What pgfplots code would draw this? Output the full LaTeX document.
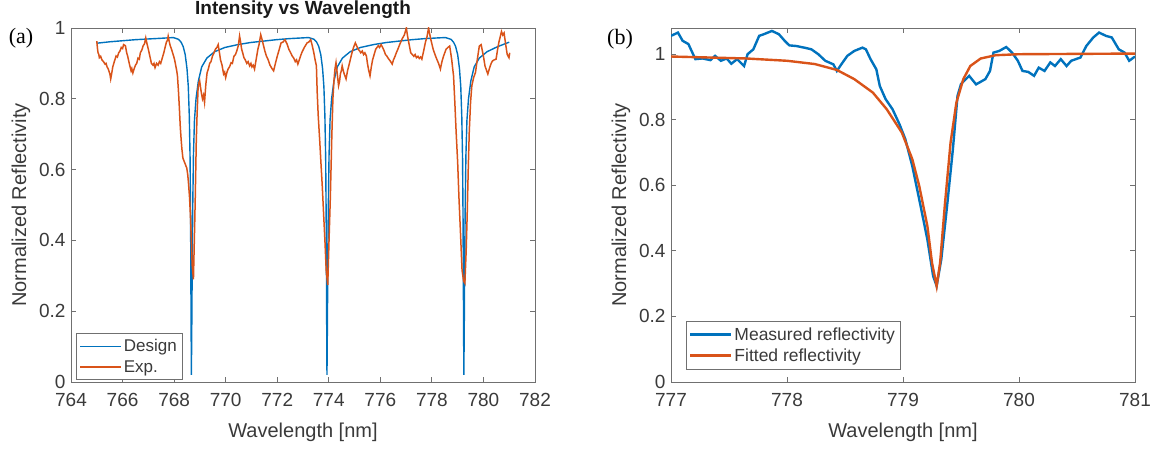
\documentclass[border=0pt]{standalone}
\usepackage{fontspec}
\setmainfont{Liberation Sans}
\newfontfamily\serifcap{Liberation Serif}
\usepackage{pgfplots}
\pgfplotsset{compat=1.18}
\definecolor{mblue}{HTML}{0072BD}
\definecolor{morange}{HTML}{D95319}
\definecolor{axgray}{HTML}{707070}
\definecolor{txtgray}{HTML}{3A3A3A}
\pgfplotsset{
  mystyle/.style={
    scale only axis, width=464pt, height=354pt,
    axis line style={axgray, line width=0.9pt},
    tick style={axgray, line width=0.9pt},
    major tick length=5pt,
    tick align=inside,
    tick label style={font=\fontsize{19}{22}\selectfont, text=txtgray},
    /pgf/number format/assume math mode=true,
    xticklabel style={yshift=-8pt},
    yticklabel style={xshift=-2pt},
    label style={font=\fontsize{20}{24}\selectfont, text=txtgray},
    xlabel style={at={(axis description cs:0.5,-0.141)}, anchor=center},
    ylabel style={at={(axis description cs:-0.108,0.5)}, anchor=center},
    legend cell align=left,
    legend image code/.code={\draw[##1] (0pt,0pt) -- (41pt,0pt);},
  }
}
\begin{document}
\begin{tikzpicture}
\useasboundingbox (0pt,0pt) rectangle (1157pt,450pt);
\begin{axis}[mystyle, at={(71pt,68pt)}, anchor=south west,
  xmin=764, xmax=782, ymin=0, ymax=1,
  xtick={764,766,...,782}, ytick={0,0.2,...,1},
  xlabel={Wavelength [nm]}, ylabel={Normalized Reflectivity},
  title={Intensity vs Wavelength},
  title style={font=\bfseries\fontsize{19}{23}\selectfont, text=black!90, at={(axis description cs:0.5,1.022)}, anchor=base},
  legend style={at={(axis description cs:0.011,0.006)}, anchor=south west, draw=axgray, fill=white, font=\fontsize{17}{20}\selectfont, text=txtgray, inner xsep=3pt, inner ysep=4pt, row sep=3pt},
]
\addplot[mblue, line width=1.4pt] coordinates {
(765.0,0.957)(765.5,0.961)(766.0,0.964)(766.5,0.967)(767.0,0.969)(767.5,0.971)(767.97,0.973)
(768.17,0.968)(768.27,0.960)(768.35,0.948)(768.43,0.925)(768.50,0.885)(768.55,0.835)(768.59,0.75)
(768.62,0.63)(768.64,0.45)(768.655,0.22)(768.67,0.02)(768.685,0.15)(768.70,0.30)(768.72,0.48)
(768.75,0.64)(768.79,0.74)(768.85,0.80)(768.94,0.85)(769.07,0.89)(769.27,0.915)(769.57,0.933)
(769.97,0.945)(770.47,0.953)(770.97,0.959)(771.47,0.963)(771.97,0.967)(772.47,0.970)(772.97,0.972)
(773.22,0.973)
(773.43,0.968)(773.53,0.960)(773.61,0.948)(773.69,0.925)(773.76,0.885)(773.81,0.835)(773.85,0.75)
(773.88,0.63)(773.90,0.45)(773.915,0.22)(773.93,0.02)(773.945,0.15)(773.96,0.30)(773.98,0.48)
(774.01,0.64)(774.05,0.74)(774.11,0.80)(774.20,0.85)(774.33,0.89)(774.53,0.915)(774.83,0.933)
(775.23,0.945)(775.73,0.953)(776.23,0.959)(776.73,0.963)(777.23,0.967)(777.73,0.970)(778.23,0.972)
(778.53,0.973)
(778.74,0.968)(778.84,0.960)(778.92,0.948)(779.00,0.925)(779.07,0.885)(779.12,0.835)(779.16,0.75)
(779.19,0.63)(779.21,0.45)(779.225,0.22)(779.24,0.02)(779.255,0.15)(779.27,0.30)(779.29,0.48)
(779.32,0.64)(779.36,0.74)(779.42,0.80)(779.51,0.85)(779.64,0.89)(779.84,0.915)(780.14,0.933)
(780.54,0.947)(781.0,0.960)
};
\addlegendentry{Design}
\addplot[morange, line width=1.5pt] coordinates {
(765.0,0.963)(765.03,0.94)(765.05,0.93)(765.08,0.925)(765.1,0.916)(765.15,0.92)(765.2,0.91)(765.26,0.905)
(765.32,0.898)(765.36,0.9)(765.4,0.89)(765.44,0.885)(765.47,0.879)(765.51,0.87)(765.54,0.856)(765.58,0.872)
(765.62,0.89)(765.68,0.905)(765.75,0.921)(765.8,0.918)(765.85,0.93)(765.9,0.935)(765.95,0.945)(766.0,0.942)
(766.04,0.953)(766.11,0.95)(766.16,0.93)(766.2,0.92)(766.26,0.9)(766.33,0.879)(766.36,0.885)(766.4,0.873)
(766.45,0.885)(766.5,0.895)(766.55,0.9)(766.6,0.915)(766.65,0.912)(766.69,0.93)(766.75,0.938)(766.8,0.95)
(766.85,0.955)(766.9,0.972)(766.95,0.955)(767.0,0.94)(767.06,0.92)(767.12,0.90)(767.18,0.895)(767.22,0.9)
(767.26,0.888)(767.32,0.9)(767.38,0.895)(767.43,0.905)(767.48,0.90)(767.54,0.915)(767.6,0.93)(767.65,0.945)
(767.7,0.96)(767.74,0.965)(767.77,0.977)(767.81,0.962)(767.85,0.95)(767.9,0.94)(767.94,0.93)(767.98,0.921)
(768.02,0.91)(768.06,0.895)(768.1,0.88)(768.13,0.865)(768.17,0.82)(768.2,0.78)(768.24,0.72)
(768.27,0.688)(768.3,0.66)(768.34,0.633)(768.38,0.625)(768.42,0.618)(768.46,0.61)(768.49,0.605)(768.53,0.585)
(768.56,0.56)(768.6,0.52)(768.63,0.474)(768.67,0.40)(768.7,0.33)
(768.75,0.29)(768.8,0.45)(768.82,0.52)(768.86,0.68)(768.89,0.753)(768.93,0.83)(768.96,0.845)(768.99,0.851)
(769.02,0.835)(769.05,0.82)(769.1,0.80)(769.14,0.81)(769.18,0.79)(769.23,0.84)(769.28,0.874)(769.33,0.885)
(769.38,0.90)(769.43,0.905)(769.49,0.921)(769.55,0.93)
(769.6,0.94)(769.66,0.945)(769.71,0.953)(769.76,0.93)(769.8,0.91)(769.86,0.895)(769.92,0.870)(769.96,0.875)
(770.0,0.86)(770.05,0.875)(770.1,0.885)(770.15,0.89)(770.21,0.902)(770.26,0.9)
(770.32,0.92)(770.38,0.925)(770.43,0.935)(770.49,0.95)(770.54,0.977)(770.58,0.96)(770.62,0.94)(770.66,0.93)
(770.71,0.916)(770.76,0.91)(770.82,0.90)(770.87,0.905)(770.93,0.893)(770.98,0.9)
(771.02,0.89)(771.07,0.895)(771.12,0.884)(771.18,0.91)(771.25,0.94)(771.3,0.955)(771.36,0.981)(771.42,0.965)
(771.47,0.95)(771.52,0.935)(771.58,0.921)(771.65,0.91)(771.72,0.895)(771.8,0.885)
(771.86,0.879)(771.93,0.9)(772.0,0.92)(772.08,0.94)(772.15,0.958)(772.22,0.96)(772.3,0.967)(772.38,0.955)
(772.45,0.94)(772.52,0.93)(772.58,0.921)(772.64,0.915)(772.7,0.905)(772.75,0.91)
(772.8,0.898)(772.88,0.915)(772.95,0.93)(773.05,0.945)(773.16,0.958)(773.22,0.96)(773.3,0.967)(773.36,0.95)
(773.42,0.93)(773.47,0.91)(773.52,0.893)(773.55,0.82)(773.59,0.753)
(773.65,0.68)(773.7,0.614)(773.75,0.55)(773.8,0.474)(773.85,0.40)(773.9,0.316)(773.96,0.274)(774.01,0.40)
(774.06,0.52)(774.12,0.70)
(774.16,0.80)(774.2,0.85)(774.24,0.884)(774.28,0.902)(774.33,0.87)(774.38,0.837)(774.42,0.85)(774.45,0.87)
(774.49,0.88)(774.52,0.893)
(774.56,0.88)(774.6,0.87)(774.67,0.856)(774.73,0.88)(774.8,0.90)(774.85,0.915)(774.9,0.93)(774.96,0.945)
(775.03,0.958)(775.08,0.95)(775.14,0.94)(775.2,0.935)(775.24,0.93)
(775.3,0.935)(775.35,0.925)(775.4,0.93)(775.46,0.921)(775.5,0.9)(775.55,0.88)(775.6,0.865)(775.65,0.89)
(775.7,0.91)(775.76,0.925)(775.82,0.94)(775.87,0.945)(775.92,0.95)
(775.97,0.945)(776.03,0.953)(776.09,0.945)(776.15,0.935)(776.2,0.925)(776.25,0.921)(776.3,0.915)(776.35,0.91)
(776.4,0.905)(776.46,0.898)(776.51,0.91)(776.57,0.92)(776.62,0.93)(776.68,0.94)
(776.76,0.955)(776.85,0.97)(776.93,0.98)(777.01,1.0)(777.05,0.98)(777.1,0.96)(777.14,0.945)(777.18,0.93)
(777.24,0.925)(777.3,0.92)(777.35,0.925)(777.4,0.916)(777.46,0.92)(777.51,0.914)(777.56,0.918)
(777.61,0.912)(777.68,0.935)(777.75,0.96)(777.81,0.975)(777.87,1.0)(777.91,0.985)(777.95,0.97)(778.0,0.955)
(778.05,0.94)(778.12,0.925)(778.2,0.91)(778.26,0.9)(778.33,0.884)
(778.39,0.905)(778.45,0.92)(778.5,0.93)(778.55,0.94)(778.62,0.945)(778.69,0.949)(778.73,0.93)(778.77,0.91)
(778.8,0.89)(778.84,0.865)(778.89,0.79)(778.94,0.707)(779.0,0.62)(779.05,0.521)
(779.11,0.42)(779.17,0.316)(779.23,0.285)(779.28,0.279)(779.33,0.37)(779.37,0.474)(779.41,0.6)(779.45,0.707)
(779.5,0.79)(779.55,0.837)(779.62,0.86)(779.69,0.874)(779.74,0.9)(779.78,0.92)
(779.84,0.949)(779.91,0.953)(779.96,0.935)(780.0,0.92)(780.06,0.893)(780.12,0.88)(780.17,0.87)(780.21,0.88)
(780.25,0.89)(780.3,0.9)(780.35,0.907)(780.42,0.91)
(780.49,0.912)(780.55,0.94)(780.6,0.96)(780.65,0.975)(780.7,0.99)(780.75,0.98)(780.8,0.986)(780.84,0.965)
(780.87,0.95)(780.92,0.926)(780.96,0.92)(780.99,0.916)(781.02,0.93)
};
\addlegendentry{Exp.}
\end{axis}
\begin{axis}[mystyle, at={(671pt,68pt)}, anchor=south west,
  xmin=777, xmax=781, ymin=0, ymax=1.08,
  xtick={777,778,...,781}, ytick={0,0.2,...,1},
  xlabel={Wavelength [nm]}, ylabel={Normalized Reflectivity},
  legend style={at={(axis description cs:0.032,0.037)}, anchor=south west, draw=axgray, fill=white, font=\fontsize{17.5}{20}\selectfont, text=txtgray, inner xsep=3pt, inner ysep=4pt, row sep=3pt},
]
\addplot[mblue, line width=2.4pt] coordinates {
(777.0,1.056)(777.06,1.066)(777.1,1.041)(777.15,1.031)(777.21,0.985)(777.27,0.987)(777.34,0.982)
(777.38,0.995)(777.43,0.98)(777.48,0.987)(777.52,0.971)(777.57,0.985)(777.63,0.964)(777.66,1.0)
(777.71,1.015)(777.76,1.056)(777.8,1.061)(777.87,1.071)(777.93,1.061)(777.98,1.041)(778.02,1.027)
(778.08,1.025)(778.15,1.02)(778.21,1.015)(778.27,1.0)(778.33,0.98)(778.4,0.969)(778.43,0.949)
(778.47,0.97)(778.52,0.995)(778.58,1.01)(778.65,1.02)(778.68,1.015)(778.72,0.985)(778.77,0.954)
(778.8,0.903)(778.85,0.863)(778.91,0.832)(778.97,0.786)(779.02,0.741)(779.08,0.659)(779.14,0.557)
(779.21,0.435)(779.26,0.323)(779.29,0.293)(779.33,0.374)(779.38,0.537)(779.43,0.71)(779.47,0.873)
(779.5,0.909)(779.57,0.934)(779.63,0.908)(779.71,0.924)(779.75,0.949)(779.78,1.005)(779.83,1.01)
(779.89,1.022)(779.94,1.005)(779.99,0.98)(780.03,0.949)(780.08,0.946)(780.13,0.934)(780.17,0.959)
(780.22,0.949)(780.27,0.975)(780.31,0.964)(780.36,0.985)(780.41,0.964)(780.45,0.98)(780.53,0.99)
(780.58,1.025)(780.64,1.051)(780.69,1.066)(780.75,1.056)(780.8,1.051)(780.86,1.015)(780.91,1.005)
(780.95,0.98)(781.0,0.993)
};
\addlegendentry{Measured reflectivity}
\addplot[morange, line width=2.4pt] coordinates {
(777.0,0.993)(777.65,0.987)(778.0,0.98)(778.24,0.97)(778.43,0.952)(778.58,0.924)(778.74,0.883)
(778.86,0.832)(778.99,0.761)(779.08,0.68)(779.14,0.598)(779.21,0.476)(779.25,0.364)(779.29,0.293)
(779.32,0.364)(779.36,0.537)(779.41,0.73)(779.46,0.852)(779.52,0.924)(779.58,0.964)(779.67,0.987)
(779.8,0.997)(780.0,1.0)(780.5,1.001)(781.0,1.002)
};
\addlegendentry{Fitted reflectivity}
\end{axis}
\node[font=\serifcap\fontsize{22}{26}\selectfont] at (21pt,412pt) {(a)};
\node[font=\serifcap\fontsize{22}{26}\selectfont] at (620pt,411pt) {(b)};
\end{tikzpicture}
\end{document}
